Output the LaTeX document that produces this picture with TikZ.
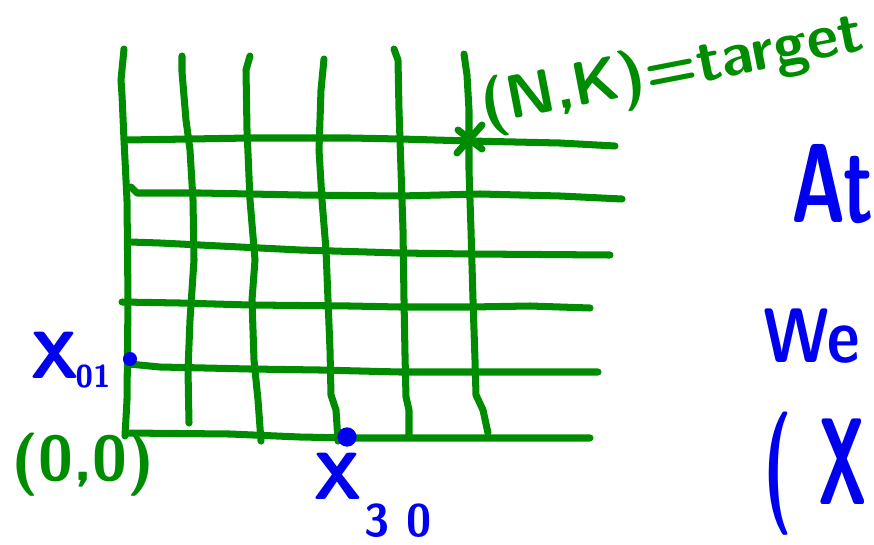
\documentclass[tikz,border=0pt]{standalone}
\usepackage{xcolor}
\usepackage{graphicx}
\usepackage{tikz}
\usetikzlibrary{positioning}

\definecolor{inkgreen}{RGB}{0,140,0}
\definecolor{inkblue}{RGB}{0,0,240}

\newcommand{\inksize}[1]{\fontsize{#1}{#1}\sffamily\bfseries\selectfont}

\begin{document}
\begin{tikzpicture}[x=0.02cm, y=-0.02cm,
        gpen/.style={draw=inkgreen, line width=4pt, line cap=round, line join=round},
        gtext/.style={text=inkgreen, inner sep=0pt},
        btext/.style={text=inkblue, inner sep=0pt},
        dot/.style={circle, fill=inkblue, inner sep=0pt, minimum size=#1}]

        \useasboundingbox (0,0) rectangle (874,544);

        % vertical lines
        \draw[gpen] (124,49) -- (121,80) -- (122,95) -- (124,140) -- (127,200) -- (128,300) -- (127,400) -- (125,436);
        \draw[gpen] (182,56) -- (182,72) -- (186,120) -- (190,150) -- (193,200) -- (194,260) -- (190,320) -- (188,370) -- (189,423);
        \draw[gpen] (250,56) -- (246,70) -- (247,130) -- (250,200) -- (255,260) -- (252,300) -- (254,360) -- (258,400) -- (261,441);
        \draw[gpen] (324,59) -- (321,90) -- (319,150) -- (322,200) -- (326,250) -- (328,300) -- (330,350) -- (331,395) -- (336,410) -- (338,441);
        \draw[gpen] (394,49) -- (398,60) -- (399,110) -- (401,170) -- (403,230) -- (404,300) -- (405,355) -- (406,397) -- (409,410) -- (409,437);
        \draw[gpen] (464,54) -- (467,75) -- (469,110) -- (469,170) -- (471,230) -- (473,300) -- (475,360) -- (476,395) -- (483,410) -- (488,433);

        % horizontal lines
        \draw[gpen] (126,140) -- (190,139) -- (250,138) -- (350,138) -- (400,139) -- (470,141) -- (560,143) -- (615,146);
        \draw[gpen] (131,187) -- (137,193) -- (200,193) -- (300,195) -- (400,196) -- (440,195) -- (480,194) -- (560,196) -- (622,199);
        \draw[gpen] (130,242) -- (160,243) -- (200,245) -- (300,250) -- (400,253) -- (470,254) -- (610,255);
        \draw[gpen] (122,302) -- (180,303) -- (250,305) -- (350,306) -- (400,307) -- (470,307) -- (530,306) -- (590,308);
        \draw[gpen] (129,364) -- (160,367) -- (250,369) -- (320,370) -- (400,372) -- (480,372) -- (598,372);
        \draw[gpen] (126,433) -- (230,434) -- (300,437) -- (350,438) -- (590,438);

        % target mark
        \draw[gpen] (458,130) -- (482,149);
        \draw[gpen] (457,153) -- (482,125);

        % points on the axes
        \node[dot=8pt] (x01dot) at (130,359) {};
        \node[dot=11pt] (x30dot) at (347,437) {};

        % labels
        \node[gtext, font=\inksize{35}, rotate=11] (target) at (672,72) {(N,K)=target};
        \node[gtext, font=\inksize{36}] (origin) at (83,465) {(0,0)};

        \node[btext, font=\inksize{38}] (x01) at (55,355) {X};
        \node[btext, font=\inksize{18}] (x01sub) at (93,377) {01};
        \node[btext, font=\inksize{38}] (x30) at (338,476) {X};
        \node[btext, font=\inksize{26}] (x30sub) at (398,521) {3\hspace{10pt}0};

        \node[btext, font=\inksize{64}, anchor=west] (at) at (791,184) {\scalebox{0.66}[1]{At}};
        \node[btext, font=\inksize{44}, anchor=west] (we) at (763,336) {\scalebox{0.82}[1]{We}};
        \node[btext, font=\inksize{54}, anchor=west] (paren) at (763,474) {\scalebox{0.7}[1.3]{(\hspace{22pt}X}};

\end{tikzpicture}
\end{document}
